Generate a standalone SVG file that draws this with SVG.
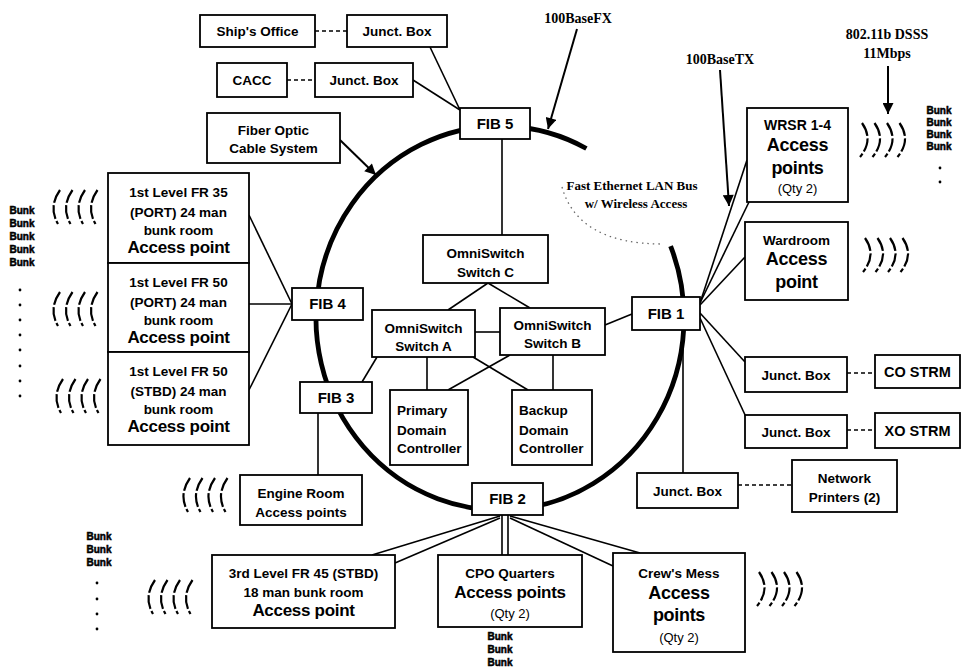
<svg xmlns="http://www.w3.org/2000/svg" xmlns:xlink="http://www.w3.org/1999/xlink" width="965" height="667" viewBox="0 0 965 667">
<style>
.box{fill:#fff;stroke:#000;stroke-width:1.8}
.t{font-family:"Liberation Sans",Arial,sans-serif;font-weight:bold;font-size:13.5px;text-anchor:middle;fill:#000}
.l{text-anchor:start}
.fib{font-size:15px}
.big{font-size:17px;letter-spacing:-0.3px}
.big2{font-size:18px;letter-spacing:-0.3px}
.n{font-weight:normal;font-size:13px}
.s{font-family:"Liberation Serif","Times New Roman",serif;font-weight:bold;font-size:14px;text-anchor:middle;fill:#000}
.bk{font-family:"Liberation Sans",Arial,sans-serif;font-weight:bold;font-size:10px;text-anchor:middle;fill:#000;stroke:#000;stroke-width:0.5}
.ln{stroke:#000;stroke-width:1.6;fill:none}
.ds{stroke:#000;stroke-width:1.6;fill:none;stroke-dasharray:4 3}
.ar{stroke:#000;stroke-width:2;fill:none;marker-end:url(#ah)}
.ring{stroke:#000;stroke-width:4.8;fill:none}
.wv{stroke:#000;stroke-width:2.2;fill:none;stroke-dasharray:14 2.5}
</style>
<defs>
<marker id="ah" viewBox="0 0 10 10" refX="10" refY="5" markerWidth="13" markerHeight="11" markerUnits="userSpaceOnUse" orient="auto"><path d="M0,0 L10,5 L0,10 z" fill="#000"/></marker>
<g id="wl"><path class="wv" d="M8 0 Q-4 17 6 34"/><path class="wv" d="M20.5 0 Q8.5 17 18.5 34"/><path class="wv" d="M33 0 Q21 17 31 34"/><path class="wv" d="M45.5 0 Q33.5 17 43.5 34"/></g>
<g id="wr"><path class="wv" d="M2 0 Q14 17 0 34"/><path class="wv" d="M14.5 0 Q26.5 17 12.5 34"/><path class="wv" d="M27 0 Q39 17 25 34"/><path class="wv" d="M39.5 0 Q51.5 17 37.5 34"/></g>
<g id="dot"><circle r="1.4" fill="#000"/></g>
</defs>
<rect width="965" height="667" fill="#fff"/>

<g id="bus">
<path class="ring" d="M670.6 246.1 A184 192 0 1 1 586.4 148.5"/>
<path d="M562 187 Q578 244 663 244" stroke="#666" stroke-width="1.3" fill="none" stroke-dasharray="1.5 4"/>
</g>

<g id="connectors">
<line class="ds" x1="315" y1="31" x2="347" y2="31"/>
<line class="ds" x1="287" y1="80" x2="315" y2="80"/>
<line class="ln" x1="430" y1="47" x2="460" y2="110"/>
<line class="ln" x1="413" y1="80" x2="460" y2="110"/>
<line class="ln" x1="502" y1="139" x2="502" y2="235"/>
<line class="ln" x1="488" y1="283" x2="448" y2="310"/>
<line class="ln" x1="488" y1="283" x2="530" y2="308"/>
<line class="ln" x1="475" y1="332" x2="500" y2="332"/>
<line class="ln" x1="605" y1="325" x2="632" y2="314"/>
<line class="ln" x1="377" y1="357" x2="362" y2="382"/>
<line class="ln" x1="427" y1="357" x2="427" y2="390"/>
<line class="ln" x1="553" y1="355" x2="553" y2="390"/>
<line class="ln" x1="473" y1="357" x2="528" y2="390"/>
<line class="ln" x1="510" y1="355" x2="448" y2="390"/>
<line class="ln" x1="249" y1="215" x2="292" y2="304"/>
<line class="ln" x1="249" y1="304" x2="292" y2="304"/>
<line class="ln" x1="249" y1="390" x2="292" y2="304"/>
<line class="ln" x1="318" y1="413" x2="318" y2="475"/>
<line class="ln" x1="502" y1="515" x2="502" y2="555"/>
<line class="ln" x1="508" y1="515" x2="508" y2="555"/>
<line class="ln" x1="500" y1="516" x2="372" y2="555"/>
<line class="ln" x1="500" y1="518" x2="395" y2="563"/>
<line class="ln" x1="510" y1="516" x2="640" y2="553"/>
<line class="ln" x1="510" y1="518" x2="613" y2="566"/>
<line class="ln" x1="700" y1="303" x2="747" y2="160"/>
<line class="ln" x1="700" y1="303" x2="749" y2="202"/>
<line class="ln" x1="700" y1="305" x2="745" y2="257"/>
<line class="ln" x1="700" y1="313" x2="745" y2="362"/>
<line class="ln" x1="700" y1="318" x2="746" y2="417"/>
<line class="ln" x1="683" y1="330" x2="683" y2="473"/>
<line class="ds" x1="847" y1="373" x2="875" y2="373"/>
<line class="ds" x1="847" y1="430" x2="875" y2="430"/>
<line class="ds" x1="738" y1="485" x2="792" y2="485"/>
<line class="ar" x1="340" y1="140" x2="376" y2="175"/>
<line class="ar" x1="577" y1="29" x2="548" y2="129"/>
<line class="ar" x1="720" y1="70" x2="729" y2="206"/>
<line class="ar" x1="888" y1="66" x2="888" y2="114"/>
</g>

<g id="labels">
<text class="s" x="578" y="23">100BaseFX</text>
<text class="s" x="720" y="64">100BaseTX</text>
<text class="s" x="887" y="39">802.11b DSSS</text>
<text class="s" x="887" y="58">11Mbps</text>
<text class="s" x="632" y="190" style="font-size:13px">Fast Ethernet LAN Bus</text>
<text class="s" x="636" y="208" style="font-size:13px">w/ Wireless Access</text>
</g>

<g id="ship_office"><rect class="box" x="200" y="15" width="115" height="32"/><text class="t" x="257.5" y="36">Ship's Office</text></g>
<g id="jb_ship"><rect class="box" x="347" y="15" width="100" height="32"/><text class="t" x="397" y="36">Junct. Box</text></g>
<g id="cacc"><rect class="box" x="217" y="63" width="70" height="34"/><text class="t" x="252" y="85">CACC</text></g>
<g id="jb_cacc"><rect class="box" x="315" y="63" width="98" height="34"/><text class="t" x="364" y="85">Junct. Box</text></g>
<g id="fiber_optic"><rect class="box" x="207" y="113" width="133" height="50"/><text class="t" x="273.5" y="135">Fiber Optic</text><text class="t" x="273.5" y="153">Cable System</text></g>
<g id="fib5"><rect class="box" x="460" y="108" width="70" height="31"/><text class="t fib" x="495" y="129">FIB 5</text></g>
<g id="omni_c"><rect class="box" x="423" y="235" width="125" height="48"/><text class="t" x="485.5" y="258">OmniSwitch</text><text class="t" x="485.5" y="277">Switch C</text></g>
<g id="omni_a"><rect class="box" x="372" y="310" width="103" height="47"/><text class="t" x="423.5" y="333">OmniSwitch</text><text class="t" x="423.5" y="351">Switch A</text></g>
<g id="omni_b"><rect class="box" x="500" y="308" width="105" height="47"/><text class="t" x="552.5" y="330">OmniSwitch</text><text class="t" x="552.5" y="348">Switch B</text></g>
<g id="primary_dc"><rect class="box" x="390" y="390" width="78" height="75"/><text class="t l" x="397" y="415">Primary</text><text class="t l" x="397" y="435">Domain</text><text class="t l" x="397" y="453">Controller</text></g>
<g id="backup_dc"><rect class="box" x="512" y="390" width="80" height="75"/><text class="t l" x="519" y="415">Backup</text><text class="t l" x="519" y="435">Domain</text><text class="t l" x="519" y="453">Controller</text></g>
<g id="fib4"><rect class="box" x="292" y="288" width="71" height="32"/><text class="t fib" x="327.5" y="309">FIB 4</text></g>
<g id="fib3"><rect class="box" x="300" y="382" width="72" height="31"/><text class="t fib" x="336" y="403">FIB 3</text></g>
<g id="fib1"><rect class="box" x="632" y="297" width="68" height="33"/><text class="t fib" x="666" y="319">FIB 1</text></g>
<g id="fib2"><rect class="box" x="472" y="483" width="71" height="32"/><text class="t fib" x="507.5" y="504">FIB 2</text></g>

<g id="fr35_port"><rect class="box" x="108" y="173" width="141" height="90"/><text class="t" x="178.5" y="197">1st Level FR 35</text><text class="t" x="178.5" y="217">(PORT) 24 man</text><text class="t" x="178.5" y="235">bunk room</text><text class="t big" x="178.5" y="253">Access point</text></g>
<g id="fr50_port"><rect class="box" x="108" y="263" width="141" height="89"/><text class="t" x="178.5" y="287">1st Level FR 50</text><text class="t" x="178.5" y="307">(PORT) 24 man</text><text class="t" x="178.5" y="325">bunk room</text><text class="t big" x="178.5" y="343">Access point</text></g>
<g id="fr50_stbd"><rect class="box" x="108" y="352" width="141" height="93"/><text class="t" x="178.5" y="376">1st Level FR 50</text><text class="t" x="178.5" y="396">(STBD) 24 man</text><text class="t" x="178.5" y="414">bunk room</text><text class="t big" x="178.5" y="432">Access point</text></g>

<g id="wrsr"><rect class="box" x="747" y="108" width="101" height="94"/><text class="t" x="797.5" y="130" style="font-size:14px">WRSR 1-4</text><text class="t big2" x="797.5" y="151">Access</text><text class="t big2" x="797.5" y="174">points</text><text class="t n" x="797.5" y="193">(Qty 2)</text></g>
<g id="wardroom"><rect class="box" x="745" y="222" width="103" height="78"/><text class="t" x="796.5" y="245">Wardroom</text><text class="t big2" x="796.5" y="265">Access</text><text class="t big2" x="796.5" y="288">point</text></g>
<g id="jb_co"><rect class="box" x="745" y="357" width="102" height="35"/><text class="t" x="796" y="380">Junct. Box</text></g>
<g id="co_strm"><rect class="box" x="875" y="355" width="85" height="33"/><text class="t" x="917.5" y="377" style="font-size:14.5px">CO STRM</text></g>
<g id="jb_xo"><rect class="box" x="745" y="415" width="102" height="33"/><text class="t" x="796" y="437">Junct. Box</text></g>
<g id="xo_strm"><rect class="box" x="875" y="413" width="85" height="35"/><text class="t" x="917.5" y="436" style="font-size:14.5px">XO STRM</text></g>
<g id="jb_np"><rect class="box" x="637" y="473" width="101" height="35"/><text class="t" x="687.5" y="496">Junct. Box</text></g>
<g id="net_printers"><rect class="box" x="792" y="460" width="105" height="52"/><text class="t" x="844.5" y="483">Network</text><text class="t" x="844.5" y="502">Printers (2)</text></g>
<g id="engine_room"><rect class="box" x="240" y="475" width="122" height="50"/><text class="t" x="301" y="498">Engine Room</text><text class="t" x="301" y="517">Access points</text></g>
<g id="fr45_stbd"><rect class="box" x="212" y="555" width="183" height="73"/><text class="t" x="303.5" y="578">3rd Level FR 45 (STBD)</text><text class="t" x="303.5" y="597">18 man bunk room</text><text class="t big" x="303.5" y="616">Access point</text></g>
<g id="cpo_quarters"><rect class="box" x="438" y="555" width="144" height="72"/><text class="t" x="510" y="578">CPO Quarters</text><text class="t big" x="510" y="598">Access points</text><text class="t n" x="510" y="618">(Qty 2)</text></g>
<g id="crews_mess"><rect class="box" x="613" y="553" width="132" height="99"/><text class="t" x="679" y="578">Crew's Mess</text><text class="t big2" x="679" y="599">Access</text><text class="t big2" x="679" y="621">points</text><text class="t n" x="679" y="642">(Qty 2)</text></g>

<g id="wireless">
<use xlink:href="#wl" x="52" y="190"/>
<use xlink:href="#wl" x="52" y="292"/>
<use xlink:href="#wl" x="55" y="379"/>
<use xlink:href="#wl" x="182" y="478"/>
<use xlink:href="#wl" x="147" y="580"/>
<use xlink:href="#wr" x="860" y="123"/>
<use xlink:href="#wr" x="863" y="238"/>
<use xlink:href="#wr" x="757" y="572"/>
</g>

<g id="bunks">
<text class="bk" x="22" y="214">Bunk</text><text class="bk" x="22" y="227">Bunk</text><text class="bk" x="22" y="240">Bunk</text><text class="bk" x="22" y="253">Bunk</text><text class="bk" x="22" y="266">Bunk</text>
<use xlink:href="#dot" x="20" y="290"/><use xlink:href="#dot" x="20" y="305"/><use xlink:href="#dot" x="20" y="320"/><use xlink:href="#dot" x="20" y="335"/><use xlink:href="#dot" x="20" y="350"/><use xlink:href="#dot" x="20" y="366"/><use xlink:href="#dot" x="20" y="381"/><use xlink:href="#dot" x="20" y="396"/>
<text class="bk" x="939" y="114">Bunk</text><text class="bk" x="939" y="126">Bunk</text><text class="bk" x="939" y="138">Bunk</text><text class="bk" x="939" y="150">Bunk</text>
<use xlink:href="#dot" x="940" y="168"/><use xlink:href="#dot" x="940" y="182"/>
<text class="bk" x="99" y="540">Bunk</text><text class="bk" x="99" y="553">Bunk</text><text class="bk" x="99" y="566">Bunk</text>
<use xlink:href="#dot" x="97" y="583"/><use xlink:href="#dot" x="97" y="599"/><use xlink:href="#dot" x="97" y="614"/><use xlink:href="#dot" x="97" y="629"/>
<text class="bk" x="500" y="640">Bunk</text><text class="bk" x="500" y="653">Bunk</text><text class="bk" x="500" y="666">Bunk</text>
</g>
</svg>
